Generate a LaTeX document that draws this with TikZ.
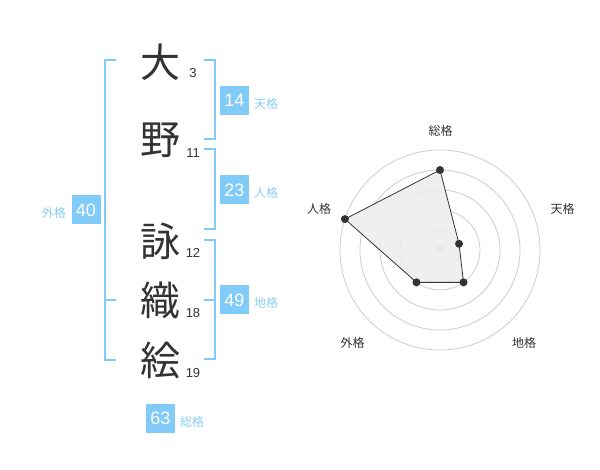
\documentclass[tikz,border=0pt]{standalone}
\usepackage{fontspec}
\setmainfont{Liberation Sans}
\newfontfamily\jp{Noto Sans CJK JP}
\definecolor{bbox}{HTML}{80CBF8}
\definecolor{btxt}{HTML}{8ACEF5}
\definecolor{dark}{HTML}{333333}
\definecolor{ring}{HTML}{CCCCCC}
\tikzset{
  kanji/.style={font=\jp\fontsize{40}{40}\selectfont, text=dark, inner sep=0pt},
  stroke/.style={font=\fontsize{13}{13}\selectfont, text=dark, inner sep=0pt},
  valbox/.style={fill=bbox, text=white, minimum width=29pt, minimum height=29pt, inner sep=0pt, font=\fontsize{18}{18}\selectfont},
  vallab/.style={text=btxt, inner sep=0pt, font=\jp\fontsize{12}{12}\selectfont},
  brk/.style={draw=bbox, line width=2pt},
  rlab/.style={text=dark, inner sep=0pt, font=\jp\fontsize{12}{12}\selectfont},
  ringc/.style={draw=ring, line width=0.8pt},
  dot/.style={circle, fill=dark, minimum size=8pt, inner sep=0pt},
}
\begin{document}
\begin{tikzpicture}[x=1pt,y=-1pt]
\useasboundingbox (0,0) rectangle (600,470);
% characters
\node[kanji] (c1) at (160,62) {大};
\node[kanji] (c2) at (160,140) {野};
\node[kanji] (c3) at (160,241) {詠};
\node[kanji] (c4) at (160,300) {織};
\node[kanji] (c5) at (160,360) {絵};
\node[stroke] (n1) at (193,73) {3};
\node[stroke] (n2) at (193,153) {11};
\node[stroke] (n3) at (193,253) {12};
\node[stroke] (n4) at (193,313) {18};
\node[stroke] (n5) at (193,373) {19};
% brackets
\draw[brk] (116,60) -- (105,60) -- (105,360) -- (116,360);
\draw[brk] (105,300) -- (116,300);
\draw[brk] (204,60) -- (214.5,60) -- (214.5,139.5) -- (204,139.5);
\draw[brk] (204,149.5) -- (214.5,149.5) -- (214.5,229.5) -- (204,229.5);
\draw[brk] (204,240.5) -- (214.5,240.5) -- (214.5,359.5) -- (204,359.5);
\draw[brk] (204,300) -- (214.5,300);
% value boxes
\node[valbox] (v1) at (234.5,100.5) {14};
\node[vallab,anchor=west] (l1) at (254,104) {天格};
\node[valbox] (v2) at (234.5,190) {23};
\node[vallab,anchor=west] (l2) at (254,193) {人格};
\node[valbox] (v3) at (234.5,300) {49};
\node[vallab,anchor=west] (l3) at (254,303) {地格};
\node[valbox] (v4) at (86,210) {40};
\node[vallab,anchor=east] (l4) at (66,213) {外格};
\node[valbox] (v5) at (160.5,418.5) {63};
\node[vallab,anchor=west] (l5) at (180,421.5) {総格};
% radar
\begin{scope}[shift={(440,250)},y=1pt]
  \foreach \r in {20,40,60,80,100} \draw[ringc] (0,0) circle (\r);
  \fill[ring] (0,0) circle (4.5);
  \coordinate (p1) at (90:80);
  \coordinate (p2) at (18:20);
  \coordinate (p3) at (-54:40);
  \coordinate (p4) at (-126:40);
  \coordinate (p5) at (162:100);
  \filldraw[fill=black!7, fill opacity=0.9, draw=dark, line width=0.8pt] (p1) -- (p2) -- (p3) -- (p4) -- (p5) -- cycle;
  \foreach \p in {p1,p2,p3,p4,p5} \node[dot] at (\p) {};
\end{scope}
\node[rlab] (r1) at (440.5,131) {総格};
\node[rlab] (r2) at (562.5,208.5) {天格};
\node[rlab] (r3) at (524,343) {地格};
\node[rlab] (r4) at (352.5,343) {外格};
\node[rlab] (r5) at (319,208.5) {人格};
\end{tikzpicture}
\end{document}
